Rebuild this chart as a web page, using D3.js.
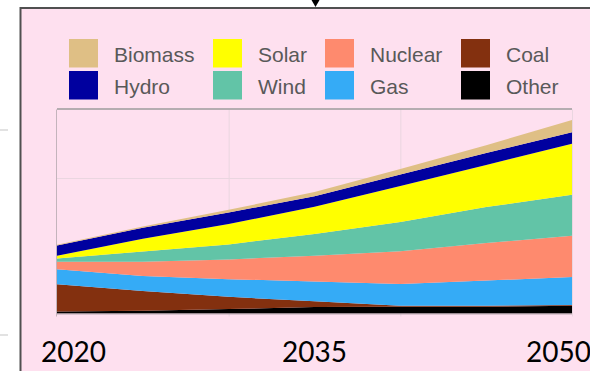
<!DOCTYPE html>
<html>
<head>
<meta charset="utf-8">
<script src="https://cdn.jsdelivr.net/npm/d3@7"></script>
<style>
  html, body { margin: 0; padding: 0; background: #ffffff; }
  svg { display: block; }
</style>
</head>
<body>
<svg id="chart" width="590" height="371"></svg>
<script>
// Electricity mix by source, stacked from the bottom up
const years   = [2020, 2025, 2030, 2035, 2040, 2045, 2050];
const other   = [3, 4, 6.5, 9.5, 10, 10, 11.5];
const coal    = [40, 29, 18, 8.5, 1.5, 1.5, 1];
const gas     = [22, 22, 26, 29, 32, 37, 41];
const nuclear = [11, 21, 29, 38, 48, 55, 61];
const wind    = [5, 15, 22, 32, 43, 53, 60];
const solar   = [4, 19, 30, 40, 53, 62, 75];
const hydro   = [15, 16, 17, 15.5, 17, 17.5, 17];
const biomass = [1, 2, 4, 6, 8, 11.5, 18];

const stackOrder = ["Other", "Coal", "Gas", "Nuclear", "Wind", "Solar", "Hydro", "Biomass"];
const legendRows = [["Biomass", "Solar", "Nuclear", "Coal"], ["Hydro", "Wind", "Gas", "Other"]];
const tickYears  = [2020, 2035, 2050];
const gridYears  = [2030, 2040, 2050];
const gridValues = [100, 200];

const colors = {
  Biomass: "#DFBF85", Solar: "#FFFF00", Nuclear: "#FE8A6E", Coal: "#83300F",
  Hydro: "#00009F", Wind: "#62C4A7", Gas: "#35ABF6", Other: "#000000"
};

const seriesValues = { Other: other, Coal: coal, Gas: gas, Nuclear: nuclear,
  Wind: wind, Solar: solar, Hydro: hydro, Biomass: biomass };

const table = years.map((yr, i) => {
  const row = { year: yr };
  stackOrder.forEach(k => row[k] = seriesValues[k][i]);
  return row;
});

const svg = d3.select("#chart");

// Panel background and frame
svg.append("rect")
  .attr("x", 20.5).attr("y", 8).attr("width", 600).attr("height", 400)
  .attr("fill", "#FEE0EF").attr("stroke", "#505050").attr("stroke-width", 2);

// Connector arrow tip at the top
svg.append("path")
  .attr("d", "M311.5,0 L319.5,0 L315.5,7 Z")
  .attr("fill", "#000");

// Faint marks to the left of the panel
svg.append("line").attr("x1", 0).attr("x2", 8).attr("y1", 130).attr("y2", 130)
  .attr("stroke", "#d8d8d8").attr("stroke-width", 1.5);
svg.append("line").attr("x1", 0).attr("x2", 8).attr("y1", 335).attr("y2", 335)
  .attr("stroke", "#d8d8d8").attr("stroke-width", 1.5);

const plot = { left: 57, right: 572, top: 109.5, bottom: 313.5 };

const x = d3.scaleLinear().domain([2020, 2050]).range([plot.left, plot.right]);
const y = d3.scaleLinear().domain([0, 300]).range([plot.bottom, plot.top]);

// Gridlines
const grid = svg.append("g");
grid.selectAll("line.v").data(gridYears).join("line")
  .attr("x1", d => x(d) + 0.5).attr("x2", d => x(d) + 0.5)
  .attr("y1", plot.top).attr("y2", plot.bottom + 3)
  .attr("stroke", "#EAD6E0").attr("stroke-width", 1);
grid.selectAll("line.h").data(gridValues).join("line")
  .attr("x1", plot.left).attr("x2", plot.right)
  .attr("y1", d => Math.round(y(d)) + 0.5).attr("y2", d => Math.round(y(d)) + 0.5)
  .attr("stroke", "#EAD6E0").attr("stroke-width", 1);

// Stacked areas
const stack = d3.stack().keys(stackOrder);
const layers = stack(table);
const area = d3.area()
  .x(d => x(d.data.year))
  .y0(d => y(d[0]))
  .y1(d => y(d[1]))
  .curve(d3.curveLinear);

svg.append("g").selectAll("path").data(layers).join("path")
  .attr("d", area)
  .attr("fill", d => colors[d.key]);

// Plot frame lines
svg.append("line")
  .attr("x1", plot.left).attr("x2", plot.right)
  .attr("y1", plot.top - 0.5).attr("y2", plot.top - 0.5)
  .attr("stroke", "#9c9c9c").attr("stroke-width", 1.5);
svg.append("line")
  .attr("x1", plot.left - 0.5).attr("x2", plot.left - 0.5)
  .attr("y1", plot.top).attr("y2", plot.bottom + 3)
  .attr("stroke", "#c4b4bc").attr("stroke-width", 1);
svg.append("line")
  .attr("x1", plot.left).attr("x2", plot.right)
  .attr("y1", plot.bottom + 0.5).attr("y2", plot.bottom + 0.5)
  .attr("stroke", "#b8a8b0").attr("stroke-width", 1);

// Year labels
const anchors = ["start", "middle", "end"];
const shifts = [-16, 0, 19];
svg.append("g").selectAll("text").data(tickYears).join("text")
  .attr("x", (d, i) => x(d) + shifts[i])
  .attr("y", 362)
  .attr("text-anchor", (d, i) => anchors[i])
  .attr("font-family", "Lato, 'Open Sans', sans-serif")
  .attr("font-size", 28)
  .attr("fill", "#000")
  .text(d => d);

// Legend
const colX = [69, 213, 325, 461];
const rowY = [39, 71];
const legend = svg.append("g");
legendRows.forEach((row, r) => {
  row.forEach((key, c) => {
    legend.append("rect")
      .attr("x", colX[c]).attr("y", rowY[r])
      .attr("width", 29).attr("height", 28.5)
      .attr("fill", colors[key]);
    legend.append("text")
      .attr("x", colX[c] + 45).attr("y", rowY[r] + 23)
      .attr("font-family", "'Liberation Sans', Arial, sans-serif")
      .attr("font-size", 21)
      .attr("fill", "#595959")
      .text(key);
  });
});
</script>
</body>
</html>
